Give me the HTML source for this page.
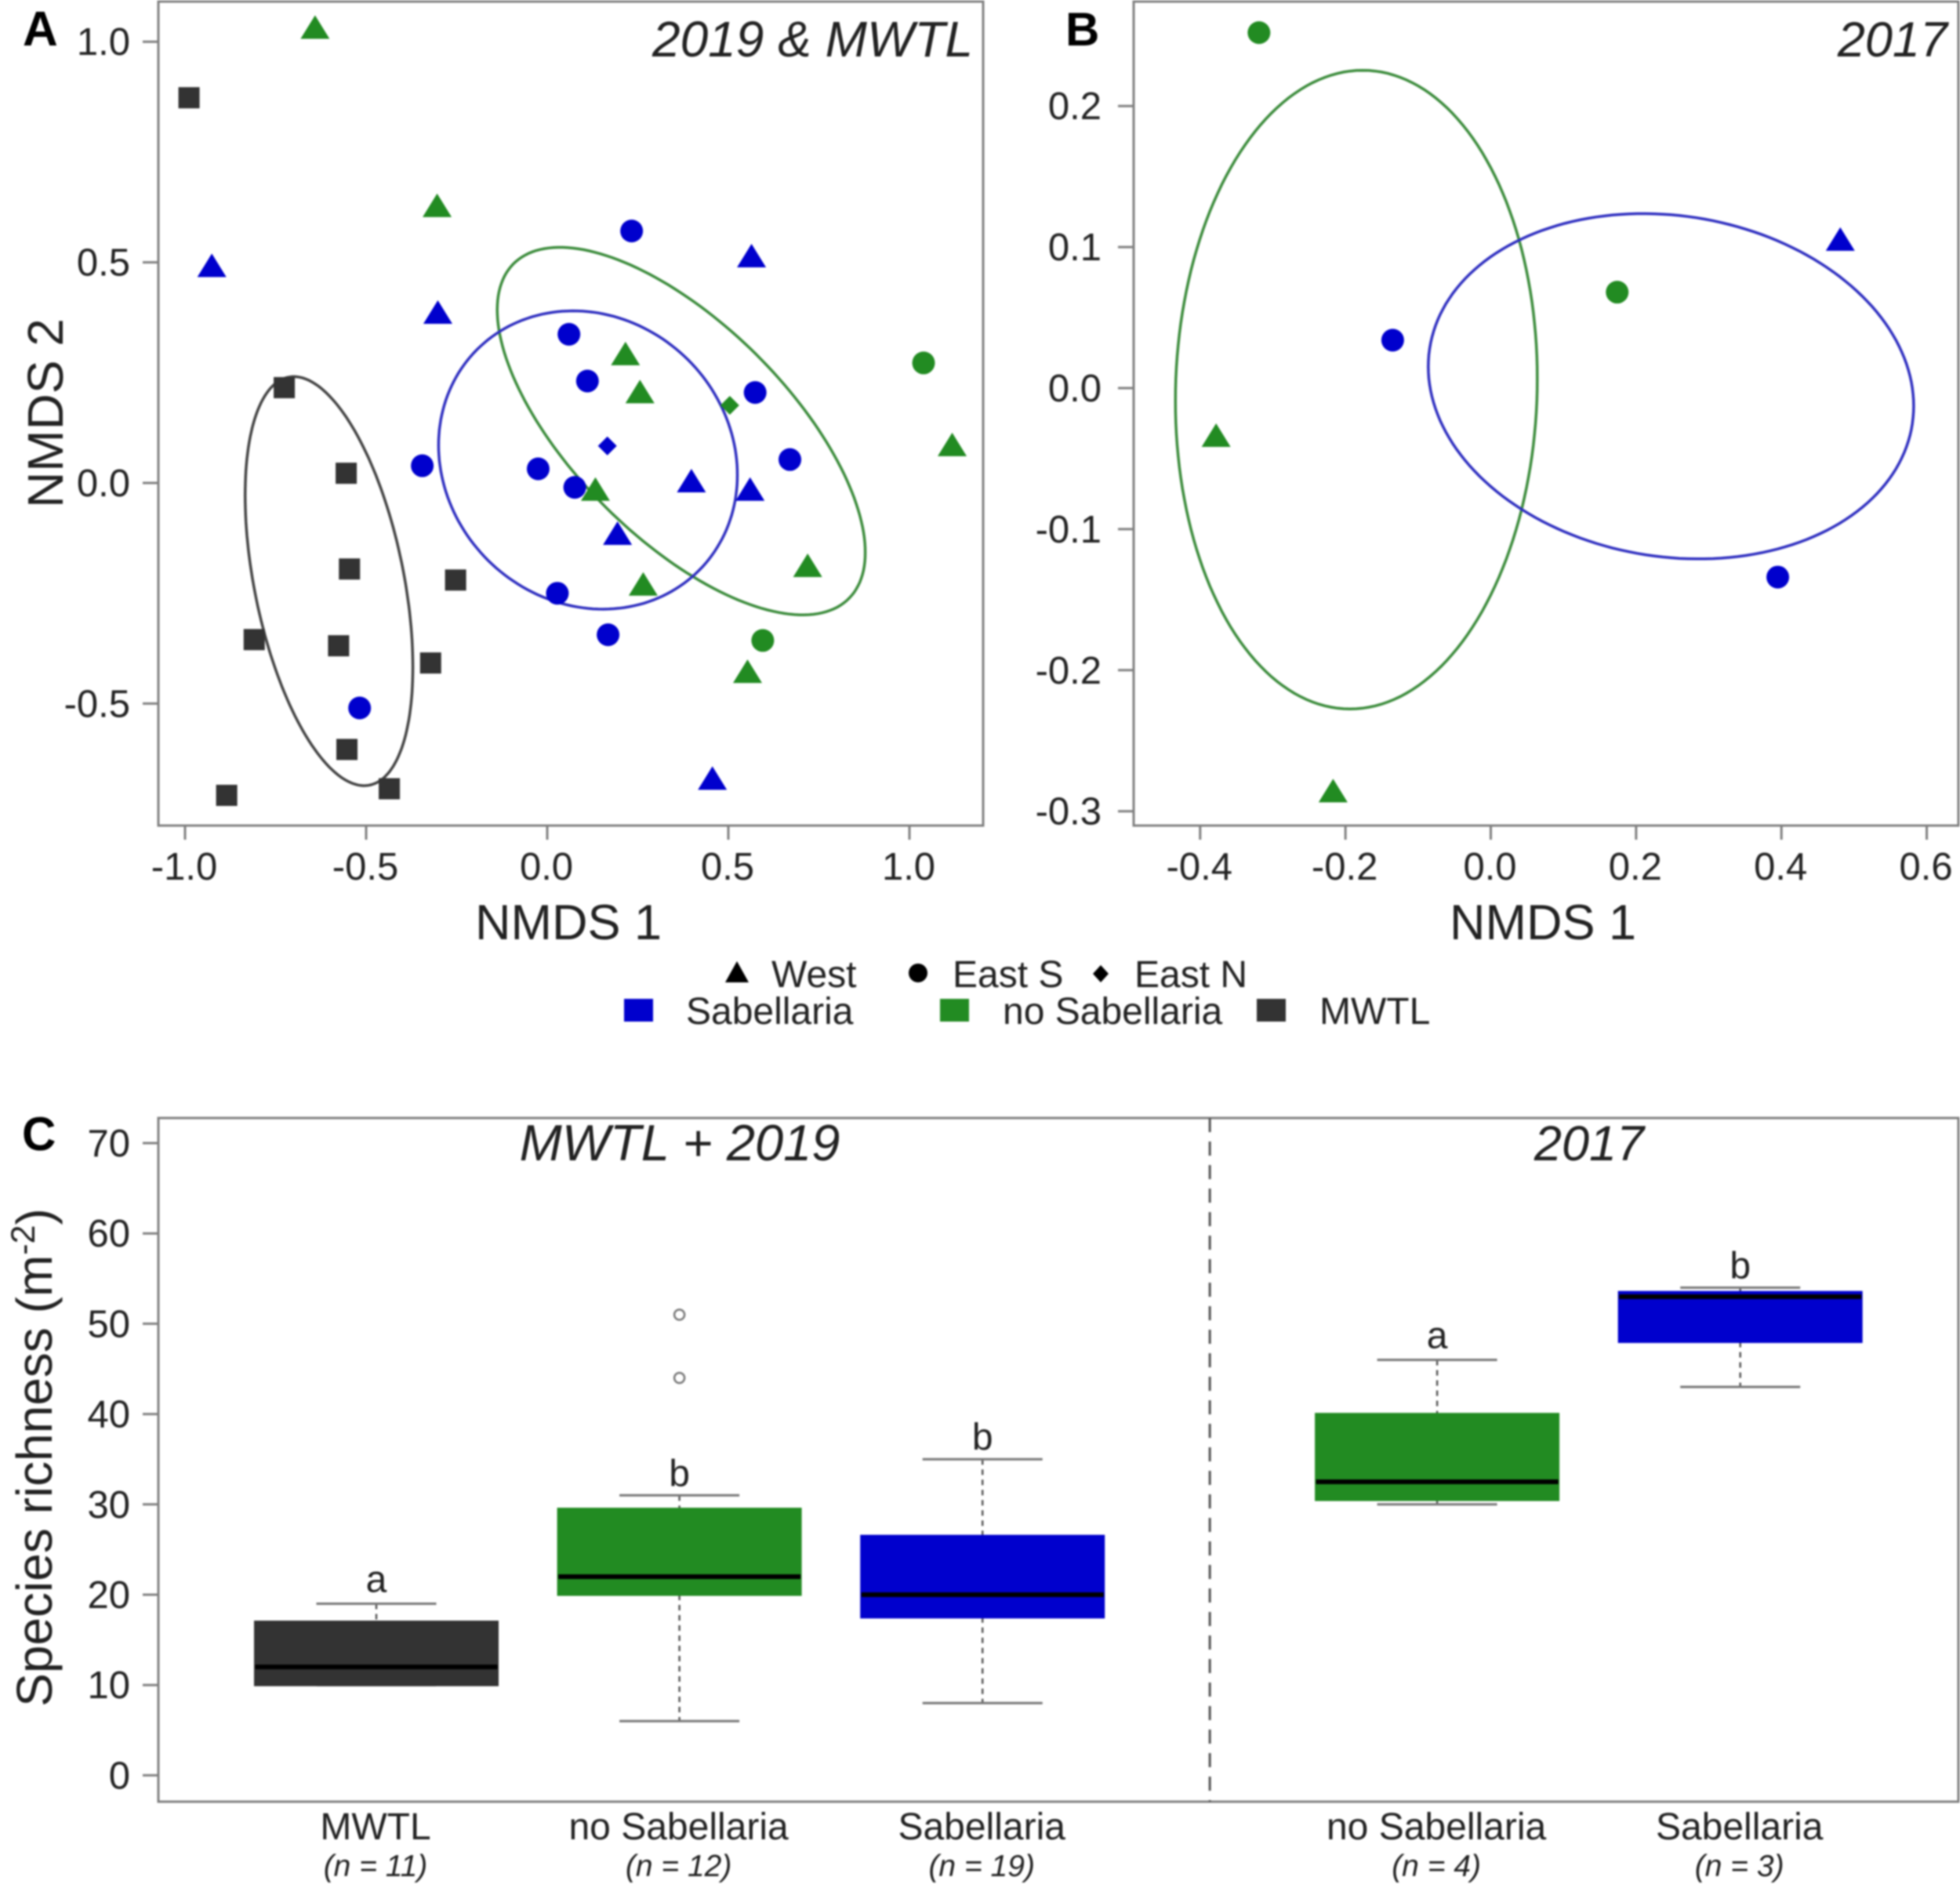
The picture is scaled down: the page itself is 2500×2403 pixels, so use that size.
<!DOCTYPE html>
<html lang="en">
<head>
<meta charset="utf-8">
<title>NMDS ordinations and species richness</title>
<style>
html,body{margin:0;padding:0;background:#fff;}
svg{display:block;position:absolute;left:0;top:0;filter:blur(1px);}
text{font-family:"Liberation Sans",sans-serif;fill:#222222;}
</style>
</head>
<body>
<svg id="figure" width="2500" height="2403" viewBox="0 0 2500 2403" xmlns="http://www.w3.org/2000/svg">
  <rect x="0" y="0" width="2500" height="2403" fill="#ffffff"/>
  <g id="panel-a">
    <rect x="202" y="2" width="1052" height="1051" fill="none" stroke="#808080" stroke-width="3"/>
    <text x="29" y="58" font-size="62" font-weight="bold" style="fill:#000">A</text>
    <text x="1241" y="72" font-size="64" font-style="italic" text-anchor="end">2019 &amp; MWTL</text>
    <text x="725" y="1198" font-size="63" text-anchor="middle">NMDS 1</text>
    <text transform="translate(80,527) rotate(-90)" font-size="64" text-anchor="middle">NMDS 2</text>
  </g>
  <g id="panel-b">
    <rect x="1446" y="2" width="1052" height="1051" fill="none" stroke="#808080" stroke-width="3"/>
    <text x="1359" y="58" font-size="60" font-weight="bold" style="fill:#000">B</text>
    <text x="2484" y="72" font-size="63" font-style="italic" text-anchor="end">2017</text>
    <text x="1968" y="1198" font-size="63" text-anchor="middle">NMDS 1</text>
  </g>
  <g id="legend">
    <g>
      <polygon points="940,1226 955,1253 925,1253" fill="#000"/>
      <text x="984" y="1259" font-size="48">West</text>
    </g>
    <g>
      <circle cx="1171" cy="1241" r="12" fill="#000"/>
      <text x="1215" y="1259" font-size="48">East S</text>
    </g>
    <g>
      <polygon points="1404,1231 1414,1242 1404,1253 1394,1242" fill="#000"/>
      <text x="1447" y="1259" font-size="48">East N</text>
    </g>
    <g>
      <rect x="796" y="1274" width="37" height="29" fill="#0000cd"/>
      <text x="875" y="1306" font-size="48">Sabellaria</text>
    </g>
    <g>
      <rect x="1199" y="1274" width="37" height="29" fill="#228b22"/>
      <text x="1279" y="1306" font-size="48">no Sabellaria</text>
    </g>
    <g>
      <rect x="1603" y="1274" width="37" height="29" fill="#333333"/>
      <text x="1683" y="1306" font-size="48">MWTL</text>
    </g>
  </g>
  <g id="panel-c">
    <rect x="202" y="1426" width="2296" height="872" fill="none" stroke="#808080" stroke-width="3"/>
    <text x="28" y="1467" font-size="60" font-weight="bold" style="fill:#000">C</text>
    <text x="867" y="1480" font-size="65" font-style="italic" text-anchor="middle">MWTL + 2019</text>
    <text x="2027" y="1480" font-size="63" font-style="italic" text-anchor="middle">2017</text>
    <text transform="translate(66,1859) rotate(-90)" font-size="64" text-anchor="middle">Species richness (m<tspan font-size="43" dy="-22">-2</tspan><tspan dy="22">)</tspan></text>
  </g>
</svg>
<script>
// ---------- Panel A data (NMDS 1 / NMDS 2) ----------
const aTicksX = [-1.0, -0.5, 0.0, 0.5, 1.0];
const aTicksY = [-0.5, 0.0, 0.5, 1.0];
const aGreenTriangleX = [-0.641, -0.304, 0.216, 0.256, 0.133, 0.265, 0.719, 0.553, 1.118];
const aGreenTriangleY = [1.028, 0.624, 0.288, 0.202, -0.019, -0.234, -0.192, -0.432, 0.082];
const aBlueTriangleX = [-0.926, -0.302, 0.564, 0.398, 0.56, 0.194, 0.456];
const aBlueTriangleY = [0.488, 0.382, 0.51, 0.0, -0.019, -0.119, -0.674];
const aBlueCircleX = [0.233, 0.06, 0.111, 0.574, 0.67, -0.345, -0.025, 0.076, 0.028, 0.168, -0.518];
const aBlueCircleY = [0.571, 0.337, 0.231, 0.205, 0.053, 0.039, 0.032, -0.01, -0.25, -0.344, -0.51];
const aGreenCircleX = [1.039, 0.595];
const aGreenCircleY = [0.272, -0.357];
const aBlueDiamondX = [0.166];
const aBlueDiamondY = [0.084];
const aGreenDiamondX = [0.504];
const aGreenDiamondY = [0.176];
const aSquareX = [-0.989, -0.726, -0.555, -0.546, -0.809, -0.576, -0.253, -0.322, -0.553, -0.436, -0.885];
const aSquareY = [0.873, 0.216, 0.022, -0.195, -0.355, -0.369, -0.22, -0.408, -0.604, -0.693, -0.708];
// ellipse: centre x, centre y, half-extent x, half-extent y, correlation
const aEllipseGreen = [0.37, 0.1175, 0.508, 0.4165, -0.66];
const aEllipseBlue = [0.1125, 0.052, 0.4125, 0.338, -0.1];
const aEllipseBlack = [-0.6025, -0.2225, 0.2315, 0.4635, -0.42];

// ---------- Panel B data ----------
const bTicksX = [-0.4, -0.2, 0.0, 0.2, 0.4, 0.6];
const bTicksY = [-0.3, -0.2, -0.1, 0.0, 0.1, 0.2];
const bGreenCircleX = [-0.319, 0.174];
const bGreenCircleY = [0.252, 0.068];
const bBlueCircleX = [-0.135, 0.395];
const bBlueCircleY = [0.034, -0.134];
const bBlueTriangleX = [0.481];
const bBlueTriangleY = [0.104];
const bGreenTriangleX = [-0.378, -0.217];
const bGreenTriangleY = [-0.035, -0.287];
const bEllipseGreen = [-0.185, -0.0011, 0.249, 0.2264, 0.035];
const bEllipseBlue = [0.248, 0.0013, 0.334, 0.1224, -0.114];

// ---------- Panel C data ----------
const cTicksY = [0, 10, 20, 30, 40, 50, 60, 70];
const cGroups = ["MWTL", "no Sabellaria", "Sabellaria", "no Sabellaria", "Sabellaria"];
const cSampleSizes = ["(n = 11)", "(n = 12)", "(n = 19)", "(n = 4)", "(n = 3)"];
const cPositions = [1, 2, 3, 4.5, 5.5];
const cWhiskerLow = [10, 6, 8, 30, 43];
const cQ1 = [10, 20, 17.5, 30.5, 48];
const cMedian = [12, 22, 20, 32.5, 53];
const cQ3 = [17, 29.5, 26.5, 40, 53.5];
const cWhiskerHigh = [19, 31, 35, 46, 54];
const cLetters = ["a", "b", "b", "a", "b"];
const cColors = ["#333333", "#228b22", "#0000cd", "#228b22", "#0000cd"];
const cOutlierGroup = [2, 2];
const cOutlierValue = [44, 51];
const cDivider = [3.75];

// ---------- Axis functions ----------
const axA = {x: v => 698 + 462 * v, y: v => 616 - 562.8 * v};
const axB = {x: v => 1901.5 + 926.8 * v, y: v => 495 - 1799 * v};
const axC = {x: v => 480 + 386.6 * (v - 1), y: v => 2264.4 - 11.52 * v};
const NS = "http://www.w3.org/2000/svg";
const BLUE = "#0000cd", GREEN = "#228b22", DARK = "#333333";

function mk(parent, tag, props, name) {
  const el = document.createElementNS(NS, tag);
  for (const k in props) el.setAttribute(k, props[k]);
  
  
  parent.appendChild(el);
  return el;
}
function label(parent, x, y, str, size, anchor, name, italic) {
  const t = mk(parent, "text", {x: x, y: y, "font-size": size, "text-anchor": anchor}, name);
  if (italic) t.setAttribute("font-style", "italic");
  t.textContent = str;
  return t;
}
function drawAxisX(g, ax, ticks, prefix, digits) {
  ticks.forEach(v => {
    mk(g, "line", {x1: ax.x(v), x2: ax.x(v), y1: 1053, y2: 1071, stroke: "#808080", "stroke-width": 3}, prefix + "-x-tick");
    label(g, ax.x(v) - 1, 1122, v.toFixed(digits), 49, "middle", prefix + "-x-tick-label");
  });
}
function drawAxisY(g, ax, ticks, prefix, digits, left, labelRight) {
  ticks.forEach(v => {
    mk(g, "line", {x1: left - 20, x2: left, y1: ax.y(v), y2: ax.y(v), stroke: "#808080", "stroke-width": 3}, prefix + "-y-tick");
    label(g, labelRight, ax.y(v) + 17, v.toFixed(digits), 49, "end", prefix + "-y-tick-label");
  });
}
function triangles(g, ax, xs, ys, color, name) {
  xs.forEach((v, i) => {
    const cx = ax.x(v), cy = ax.y(ys[i]) - 3;
    const pts = [[cx, cy - 15], [cx + 18.5, cy + 15], [cx - 18.5, cy + 15]].map(p => p.join(",")).join(" ");
    mk(g, "polygon", {points: pts, fill: color}, name);
  });
}
function circles(g, ax, xs, ys, color, name) {
  xs.forEach((v, i) => {
    mk(g, "circle", {cx: ax.x(v), cy: ax.y(ys[i]), r: 14.5, fill: color}, name);
  });
}
function diamonds(g, ax, xs, ys, color, name) {
  xs.forEach((v, i) => {
    const cx = ax.x(v), cy = ax.y(ys[i]);
    const pts = [[cx, cy - 12], [cx + 12, cy], [cx, cy + 12], [cx - 12, cy]].map(p => p.join(",")).join(" ");
    mk(g, "polygon", {points: pts, fill: color}, name);
  });
}
function squares(g, ax, xs, ys, color, name) {
  xs.forEach((v, i) => {
    mk(g, "rect", {x: ax.x(v) - 13.5, y: ax.y(ys[i]) - 13.5, width: 27, height: 27, fill: color}, name);
  });
}
function ellipse(g, ax, e, color, name) {
  const phi = Math.acos(e[4]);
  let d = "";
  for (let k = 0; k <= 180; k++) {
    const t = k / 180 * 2 * Math.PI;
    const px = ax.x(e[0] + e[2] * Math.cos(t));
    const py = ax.y(e[1] + e[3] * Math.cos(t - phi));
    d += (k ? "L" : "M") + px.toFixed(1) + " " + py.toFixed(1);
  }
  mk(g, "path", {d: d + "Z", fill: "none", stroke: color, "stroke-width": 3.5}, name);
}

// ---------- Panel A ----------
const gA = document.getElementById("panel-a");
drawAxisX(gA, axA, aTicksX, "panel-a", 1);
drawAxisY(gA, axA, aTicksY, "panel-a", 1, 202, 166);
ellipse(gA, axA, aEllipseGreen, "#3c8c3c", "panel-a-ellipse-no-sabellaria");
ellipse(gA, axA, aEllipseBlue, "#2f2fc0", "panel-a-ellipse-sabellaria");
ellipse(gA, axA, aEllipseBlack, "#444444", "panel-a-ellipse-mwtl");
squares(gA, axA, aSquareX, aSquareY, DARK, "panel-a-point-mwtl");
circles(gA, axA, aBlueCircleX, aBlueCircleY, BLUE, "panel-a-point-sabellaria-east-s");
circles(gA, axA, aGreenCircleX, aGreenCircleY, GREEN, "panel-a-point-no-sabellaria-east-s");
triangles(gA, axA, aBlueTriangleX, aBlueTriangleY, BLUE, "panel-a-point-sabellaria-west");
triangles(gA, axA, aGreenTriangleX, aGreenTriangleY, GREEN, "panel-a-point-no-sabellaria-west");
diamonds(gA, axA, aBlueDiamondX, aBlueDiamondY, BLUE, "panel-a-point-sabellaria-east-n");
diamonds(gA, axA, aGreenDiamondX, aGreenDiamondY, GREEN, "panel-a-point-no-sabellaria-east-n");

// ---------- Panel B ----------
const gB = document.getElementById("panel-b");
drawAxisX(gB, axB, bTicksX, "panel-b", 1);
drawAxisY(gB, axB, bTicksY, "panel-b", 1, 1446, 1405);
ellipse(gB, axB, bEllipseGreen, "#3c8c3c", "panel-b-ellipse-no-sabellaria");
ellipse(gB, axB, bEllipseBlue, "#2f2fc0", "panel-b-ellipse-sabellaria");
circles(gB, axB, bGreenCircleX, bGreenCircleY, GREEN, "panel-b-point-no-sabellaria-east-s");
circles(gB, axB, bBlueCircleX, bBlueCircleY, BLUE, "panel-b-point-sabellaria-east-s");
triangles(gB, axB, bBlueTriangleX, bBlueTriangleY, BLUE, "panel-b-point-sabellaria-west");
triangles(gB, axB, bGreenTriangleX, bGreenTriangleY, GREEN, "panel-b-point-no-sabellaria-west");

// ---------- Panel C ----------
const gC = document.getElementById("panel-c");
drawAxisY(gC, axC, cTicksY, "panel-c", 0, 202, 166);
cDivider.forEach(v => {
  mk(gC, "line", {x1: axC.x(v), x2: axC.x(v), y1: 1426, y2: 2298, stroke: "#555555", "stroke-width": 3, "stroke-dasharray": "18 12"}, "panel-c-period-divider");
});
const boxW = 154.5, capW = 76.5;
cGroups.forEach((group, i) => {
  const x = axC.x(cPositions[i]);
  const slug = group.toLowerCase().replace(/ /g, "-") + "-" + i;
  mk(gC, "line", {x1: x, x2: x, y1: axC.y(cWhiskerHigh[i]), y2: axC.y(cQ3[i]), stroke: "#555555", "stroke-width": 2.5, "stroke-dasharray": "7 6"}, "whisker-upper-" + slug);
  mk(gC, "line", {x1: x, x2: x, y1: axC.y(cQ1[i]), y2: axC.y(cWhiskerLow[i]), stroke: "#555555", "stroke-width": 2.5, "stroke-dasharray": "7 6"}, "whisker-lower-" + slug);
  mk(gC, "line", {x1: x - capW, x2: x + capW, y1: axC.y(cWhiskerHigh[i]), y2: axC.y(cWhiskerHigh[i]), stroke: "#777777", "stroke-width": 3}, "whisker-cap-upper-" + slug);
  mk(gC, "line", {x1: x - capW, x2: x + capW, y1: axC.y(cWhiskerLow[i]), y2: axC.y(cWhiskerLow[i]), stroke: "#777777", "stroke-width": 3}, "whisker-cap-lower-" + slug);
  mk(gC, "rect", {x: x - boxW, y: axC.y(cQ3[i]), width: 2 * boxW, height: axC.y(cQ1[i]) - axC.y(cQ3[i]), fill: cColors[i], stroke: cColors[i], "stroke-width": 3}, "box-" + slug);
  mk(gC, "line", {x1: x - boxW, x2: x + boxW, y1: axC.y(cMedian[i]), y2: axC.y(cMedian[i]), stroke: "#000000", "stroke-width": 6}, "median-" + slug);
  label(gC, x, axC.y(cWhiskerHigh[i]) - (cLetters[i] === "a" ? 15 : 12), cLetters[i], 48, "middle", "significance-letter-" + slug);
  label(gC, x - 1, 2346, group, 48, "middle", "group-label-" + slug);
  label(gC, x - 1, 2393, cSampleSizes[i], 39, "middle", "sample-size-" + slug, true);
});
cOutlierValue.forEach((v, i) => {
  mk(gC, "circle", {cx: axC.x(cPositions[cOutlierGroup[i] - 1]), cy: axC.y(v), r: 6.5, fill: "none", stroke: "#777777", "stroke-width": 2.5}, "outlier");
});
</script>
</body>
</html>
